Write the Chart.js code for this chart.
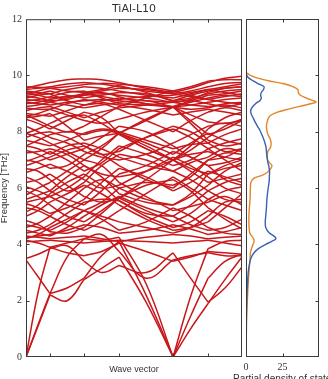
<!DOCTYPE html>
<html>
<head>
<meta charset="utf-8">
<script src="https://cdn.jsdelivr.net/npm/chart.js@4"></script>
<style>
  html, body { margin: 0; padding: 0; background: #fff; }
  #wrap { position: relative; width: 328px; height: 379px; overflow: hidden; }
  #bands { position: absolute; left: 0; top: 0; }
  #dos { position: absolute; left: 200px; top: 0; }
  #dosLabel {
    position: absolute; left: 233px; top: 374px; white-space: nowrap;
    font: 10px 'Liberation Sans', sans-serif; color: #333; line-height: 1;
  }
</style>
</head>
<body>
<div id="wrap">
  <canvas id="bands" width="244" height="379"></canvas>
  <canvas id="dos" width="128" height="379"></canvas>
  <div id="dosLabel">Partial density of states</div>
</div>
<script>
// k-path sample positions (fraction of path), high-symmetry points at segBreaks
const kPoints = [0, 0.056, 0.111, 0.19, 0.269, 0.35, 0.431, 0.556, 0.681, 0.762, 0.843, 0.921, 1];
const segBreaks = [0, 2, 4, 6, 8, 10, 12];

// phonon branches, THz, one value per kPoint
const bands = [
  [0.00, 1.10, 2.20, 2.00, 2.75, 3.15, 3.55, 1.95, 0.00, 1.00, 1.90, 2.75, 3.55],
  [0.00, 1.15, 2.25, 2.45, 2.80, 3.60, 4.10, 2.20, 0.00, 1.45, 2.80, 3.40, 3.65],
  [0.00, 2.30, 3.90, 4.05, 4.20, 4.15, 4.25, 2.60, 0.00, 2.15, 3.85, 4.10, 4.15],
  [3.45, 2.85, 2.25, 3.55, 4.20, 4.35, 3.75, 2.80, 3.45, 3.60, 3.70, 3.60, 3.60],
  [3.50, 3.65, 3.85, 3.95, 3.40, 3.00, 3.25, 3.00, 3.70, 2.80, 1.95, 2.45, 3.20],
  [4.10, 4.12, 4.15, 4.10, 4.05, 4.10, 4.15, 4.10, 4.05, 4.10, 4.15, 4.05, 3.95],
  [4.15, 4.05, 3.90, 3.70, 3.60, 3.75, 4.05, 3.75, 3.40, 3.55, 3.75, 3.70, 3.65],
  [4.30, 4.25, 4.20, 4.25, 4.30, 4.20, 4.10, 4.25, 4.35, 4.30, 4.20, 4.25, 4.30],
  [4.25, 4.30, 4.35, 4.50, 4.70, 4.60, 4.40, 4.50, 4.70, 4.55, 4.35, 4.45, 4.60],
  [4.20, 4.35, 4.60, 4.90, 5.20, 4.90, 4.50, 4.80, 5.30, 5.00, 4.60, 4.40, 4.35],
  [4.40, 4.50, 4.70, 5.10, 5.50, 5.60, 5.55, 5.00, 4.60, 4.80, 5.20, 5.00, 4.70],
  [4.50, 4.40, 4.30, 4.60, 5.00, 5.40, 5.70, 5.30, 5.00, 4.70, 4.50, 4.60, 4.90],
  [4.60, 4.75, 5.00, 5.50, 6.00, 6.30, 6.00, 5.60, 5.40, 5.70, 6.10, 6.60, 6.90],
  [4.70, 4.60, 4.50, 4.80, 5.20, 5.00, 4.80, 4.60, 4.40, 4.60, 5.00, 5.50, 5.60],
  [4.85, 4.70, 4.45, 4.40, 4.60, 5.10, 5.65, 6.10, 6.30, 5.90, 5.30, 4.90, 4.55],
  [5.00, 5.20, 5.50, 5.80, 6.10, 5.80, 5.40, 4.90, 4.50, 4.60, 4.80, 5.30, 5.80],
  [5.15, 5.40, 5.80, 6.20, 6.50, 6.10, 5.55, 5.10, 5.00, 5.40, 5.90, 6.20, 6.35],
  [5.30, 5.20, 5.00, 4.70, 4.50, 4.80, 5.20, 5.80, 6.40, 6.00, 5.60, 5.40, 5.20],
  [5.45, 5.30, 5.10, 5.30, 5.60, 6.20, 6.70, 6.40, 5.90, 6.20, 6.60, 6.40, 6.20],
  [5.50, 5.60, 5.70, 5.40, 5.20, 5.50, 6.00, 6.20, 6.10, 6.40, 7.00, 7.10, 7.40],
  [5.60, 5.75, 5.90, 6.40, 6.80, 6.40, 5.80, 5.50, 5.40, 5.80, 6.50, 6.80, 7.00],
  [5.75, 6.00, 6.20, 6.60, 7.00, 6.80, 6.20, 5.70, 5.20, 5.35, 5.50, 5.70, 5.40],
  [5.90, 5.70, 5.40, 5.00, 4.80, 5.20, 5.65, 5.20, 4.80, 5.10, 5.60, 5.90, 6.05],
  [6.05, 5.90, 5.70, 6.00, 6.40, 7.00, 7.50, 7.20, 6.80, 7.00, 7.40, 7.60, 7.75],
  [6.20, 6.30, 6.50, 6.10, 5.70, 5.50, 5.65, 6.30, 7.00, 6.60, 6.20, 6.35, 6.50],
  [6.40, 6.20, 5.90, 5.60, 5.40, 5.90, 6.50, 6.80, 7.30, 7.10, 6.80, 6.30, 6.10],
  [6.55, 6.70, 6.85, 6.60, 6.30, 6.00, 6.10, 6.60, 7.10, 6.80, 6.40, 6.00, 5.80],
  [6.70, 6.60, 6.30, 5.90, 6.20, 6.80, 7.20, 7.00, 6.60, 6.30, 5.90, 5.60, 5.50],
  [6.80, 6.95, 7.10, 7.35, 7.50, 7.20, 6.80, 6.30, 6.00, 6.50, 7.00, 7.25, 7.20],
  [6.95, 7.10, 7.30, 7.00, 6.60, 6.90, 7.40, 7.80, 8.10, 7.80, 7.40, 7.00, 6.60],
  [7.00, 6.90, 6.70, 6.80, 7.20, 7.50, 7.95, 7.40, 7.00, 6.70, 6.50, 6.70, 6.80],
  [7.25, 7.30, 7.40, 7.20, 6.80, 6.50, 6.40, 6.60, 7.00, 7.20, 7.30, 7.10, 7.00],
  [7.35, 7.20, 7.00, 7.20, 7.40, 7.80, 8.20, 8.00, 7.50, 7.10, 6.80, 6.90, 7.10],
  [7.50, 7.40, 7.20, 7.50, 7.60, 7.40, 7.10, 6.80, 6.60, 6.90, 7.10, 7.40, 7.30],
  [7.50, 7.70, 7.90, 8.00, 7.90, 8.05, 7.95, 7.50, 7.00, 7.35, 7.80, 8.20, 8.45],
  [7.70, 7.60, 7.50, 7.70, 7.95, 8.10, 8.00, 7.70, 7.40, 7.55, 7.60, 7.90, 8.10],
  [7.80, 7.95, 8.00, 7.80, 7.50, 7.20, 7.30, 7.80, 8.20, 8.00, 7.60, 7.30, 7.40],
  [7.95, 7.80, 7.60, 7.30, 7.00, 7.40, 7.95, 7.60, 7.20, 7.60, 7.95, 7.70, 7.55],
  [7.95, 8.10, 8.30, 8.55, 8.60, 8.30, 7.90, 7.40, 7.00, 7.50, 8.10, 8.50, 8.70],
  [8.20, 8.00, 7.80, 7.60, 7.30, 7.10, 7.00, 7.20, 7.60, 7.90, 8.20, 8.30, 8.20],
  [8.45, 8.30, 8.10, 8.40, 8.70, 8.50, 7.95, 8.40, 8.88, 8.40, 7.90, 8.10, 8.40],
  [8.50, 8.55, 8.65, 8.20, 7.70, 7.85, 7.95, 8.45, 8.88, 8.30, 7.70, 7.50, 7.60],
  [8.55, 8.65, 8.80, 8.60, 8.40, 8.30, 8.45, 8.70, 8.88, 8.60, 8.35, 8.30, 8.40],
  [8.60, 8.40, 8.20, 8.00, 8.20, 8.55, 8.90, 9.20, 9.45, 9.30, 9.15, 9.05, 9.00],
  [8.65, 8.60, 8.55, 8.75, 8.95, 9.00, 8.80, 8.40, 8.00, 8.40, 8.70, 8.85, 8.75],
  [8.75, 8.85, 8.90, 8.70, 8.50, 8.70, 8.85, 8.95, 9.05, 9.10, 9.00, 8.90, 9.00],
  [8.85, 8.80, 8.80, 9.00, 9.15, 9.05, 8.95, 8.80, 8.60, 8.70, 8.80, 8.70, 8.60],
  [8.90, 8.95, 9.05, 8.95, 8.85, 8.95, 9.05, 9.10, 8.88, 8.80, 8.85, 9.00, 9.05],
  [9.00, 9.05, 9.15, 9.25, 9.30, 9.35, 9.30, 9.20, 9.05, 8.95, 8.90, 8.95, 8.85],
  [9.05, 9.00, 8.95, 9.05, 9.10, 9.15, 9.10, 9.00, 8.88, 8.95, 9.05, 9.15, 9.20],
  [9.10, 9.15, 9.25, 9.40, 9.45, 9.20, 9.00, 8.95, 8.88, 9.05, 9.20, 9.30, 9.25],
  [9.15, 9.10, 9.05, 9.20, 9.35, 9.25, 9.15, 9.25, 9.30, 9.40, 9.50, 9.40, 9.30],
  [9.20, 9.30, 9.35, 9.10, 8.95, 9.10, 9.20, 9.10, 9.05, 9.15, 9.40, 9.55, 9.60],
  [9.25, 9.20, 9.10, 9.15, 9.30, 9.40, 9.25, 9.00, 8.90, 9.10, 9.30, 9.35, 9.45],
  [9.30, 9.35, 9.45, 9.30, 9.20, 9.30, 9.40, 9.35, 9.10, 9.20, 9.35, 9.45, 9.50],
  [9.35, 9.45, 9.55, 9.45, 9.40, 9.50, 9.65, 9.40, 9.10, 9.30, 9.45, 9.55, 9.60],
  [9.40, 9.30, 9.20, 9.25, 9.35, 9.45, 9.55, 9.50, 9.35, 9.25, 9.15, 9.25, 9.35],
  [9.45, 9.40, 9.35, 9.50, 9.60, 9.55, 9.45, 9.30, 9.20, 9.35, 9.50, 9.60, 9.70],
  [9.50, 9.55, 9.60, 9.70, 9.75, 9.70, 9.60, 9.45, 9.35, 9.45, 9.60, 9.72, 9.75],
  [9.55, 9.65, 9.75, 9.85, 9.88, 9.85, 9.75, 9.55, 9.40, 9.55, 9.75, 9.90, 9.97],
  [9.60, 9.58, 9.55, 9.60, 9.68, 9.72, 9.70, 9.60, 9.45, 9.60, 9.80, 9.85, 9.85]
];

// partial DOS (states), sampled on dosFreq (THz)
const dosFreq = [0, 0.5, 1, 1.5, 2, 2.5, 3, 3.25, 3.5, 3.7, 3.85, 4.0, 4.1, 4.2, 4.3, 4.4, 4.6, 4.8, 5.0, 5.3, 5.6, 6.0, 6.2, 6.35, 6.45, 6.55, 6.65, 6.8, 6.9, 7.0, 7.15, 7.3, 7.45, 7.6, 7.75, 7.9, 8.05, 8.2, 8.35, 8.5, 8.6, 8.7, 8.8, 8.9, 9.0, 9.05, 9.1, 9.2, 9.3, 9.4, 9.5, 9.6, 9.7, 9.8, 9.9, 10.0, 10.1];
const dosTi = [0, 0.05, 0.15, 0.3, 0.5, 0.9, 1.5, 2.2, 3.3, 5.5, 8.5, 13.5, 17.5, 20.5, 19, 16, 13.5, 13.2, 13.5, 14, 14.3, 15.2, 15.8, 16, 16, 16.2, 16, 15.5, 15, 14.7, 14.3, 14, 13.7, 13, 12, 10.8, 9.5, 7.8, 6.2, 4.8, 3.8, 3.2, 3.5, 4.8, 6.7, 8, 9.5, 10.5, 10, 10.6, 12, 12.3, 8.5, 5, 2, 0.5, 0];
const dosAl = [0, 0.1, 0.3, 0.5, 0.9, 1.4, 2.0, 2.4, 2.8, 3.0, 3.8, 4.8, 5.5, 5.2, 3.8, 2.6, 2.1, 2.0, 2.0, 2.3, 2.8, 3.0, 3.4, 5.5, 11, 14.5, 16.5, 17.8, 16, 14.8, 14.5, 15, 16.8, 17.2, 16.5, 15, 14.3, 14, 14.5, 15.5, 17.5, 22, 29, 37, 45, 48, 46, 41, 37, 35.8, 35.5, 32, 26, 16, 8, 3, 0];

const freqTicks = [2, 4, 6, 8, 10];
const dosTicks = [0, 25];

const Colors = {
  band: 'rgb(200, 24, 28)',
  ti: 'rgb(55, 98, 178)',
  al: 'rgb(228, 132, 42)',
  frame: '#3a3a3a',
  text: '#333'
};

// box around the plot area plus short inward tick marks
const framePlugin = {
  id: 'frame',
  afterDraw(chart, args, opts) {
    const { ctx, chartArea: a, scales } = chart;
    const len = 3.5;
    ctx.save();
    ctx.strokeStyle = Colors.frame;
    ctx.lineWidth = 1;
    ctx.strokeRect(a.left + 0.5, a.top + 0.5, a.right - a.left - 1, a.bottom - a.top - 1);
    ctx.beginPath();
    (opts.xTicks || []).forEach(v => {
      const px = Math.round(scales.x.getPixelForValue(v)) + 0.5;
      ctx.moveTo(px, a.bottom); ctx.lineTo(px, a.bottom - len);
      ctx.moveTo(px, a.top); ctx.lineTo(px, a.top + len);
    });
    (opts.yTicks || []).forEach(v => {
      const py = Math.round(scales.y.getPixelForValue(v)) + 0.5;
      if (opts.ySide === 'right') {
        ctx.moveTo(a.right, py); ctx.lineTo(a.right - len, py);
      } else {
        ctx.moveTo(a.left, py); ctx.lineTo(a.left + len, py);
      }
    });
    ctx.stroke();
    ctx.restore();
  }
};

const bandDatasets = [];
bands.forEach(band => {
  for (let s = 0; s < segBreaks.length - 1; s++) {
    const pts = [];
    for (let i = segBreaks[s]; i <= segBreaks[s + 1]; i++) {
      pts.push({ x: kPoints[i], y: band[i] });
    }
    bandDatasets.push({
      data: pts,
      borderColor: Colors.band,
      borderWidth: 1.5,
      pointRadius: 0,
      tension: 0.4,
      fill: false
    });
  }
});

new Chart(document.getElementById('bands'), {
  type: 'line',
  data: { datasets: bandDatasets },
  options: {
    responsive: false,
    animation: false,
    layout: { padding: { right: 2 } },
    plugins: {
      legend: { display: false },
      tooltip: { enabled: false },
      title: {
        display: true,
        text: 'TiAl-L10',
        fullSize: false,
        color: Colors.text,
        font: { family: 'DejaVu Sans', size: 11, weight: 'normal' },
        padding: { top: 3, bottom: 3 }
      },
      frame: { xTicks: segBreaks.slice(1, -1).map(i => kPoints[i]), yTicks: freqTicks, ySide: 'left' }
    },
    scales: {
      x: {
        type: 'linear',
        min: 0,
        max: 1,
        grid: { display: false, drawTicks: false },
        border: { display: false },
        ticks: { display: false },
        title: {
          display: true,
          text: 'Wave vector',
          color: Colors.text,
          font: { family: 'Liberation Sans', size: 9 },
          padding: { top: 0, bottom: 4 }
        },
        afterFit: s => { s.height = 22; }
      },
      y: {
        min: 0,
        max: 12,
        grid: { display: false, drawTicks: false },
        border: { display: false },
        ticks: {
          stepSize: 2,
          padding: 4,
          color: Colors.text,
          font: { family: 'Liberation Serif', size: 10 }
        },
        title: {
          display: true,
          text: 'Frequency [THz]',
          color: Colors.text,
          font: { family: 'Liberation Sans', size: 9.5 },
          padding: { top: -1.5, bottom: 0 }
        },
        afterFit: s => { s.width = 26; }
      }
    }
  },
  plugins: [framePlugin]
});

new Chart(document.getElementById('dos'), {
  type: 'scatter',
  data: {
    datasets: [
      {
        label: 'Ti',
        data: dosFreq.map((f, i) => ({ x: dosTi[i], y: f })),
        showLine: true,
        borderColor: Colors.ti,
        borderWidth: 1.4,
        pointRadius: 0,
        tension: 0.3
      },
      {
        label: 'Al',
        data: dosFreq.map((f, i) => ({ x: dosAl[i], y: f })),
        showLine: true,
        borderColor: Colors.al,
        borderWidth: 1.4,
        pointRadius: 0,
        tension: 0.3
      }
    ]
  },
  options: {
    responsive: false,
    animation: false,
    layout: { padding: { left: 46, right: 9, top: 19 } },
    plugins: {
      legend: { display: false },
      tooltip: { enabled: false },
      frame: { xTicks: [25], yTicks: freqTicks, ySide: 'right' }
    },
    scales: {
      x: {
        type: 'linear',
        min: 0,
        max: 50,
        grid: { display: false, drawTicks: false },
        border: { display: false },
        afterBuildTicks: s => { s.ticks = dosTicks.map(v => ({ value: v })); },
        ticks: {
          padding: 4,
          color: Colors.text,
          font: { family: 'Liberation Serif', size: 10 }
        },
        afterFit: s => { s.height = 22; }
      },
      y: {
        min: 0,
        max: 12,
        display: false
      }
    }
  },
  plugins: [framePlugin]
});
</script>
</body>
</html>
